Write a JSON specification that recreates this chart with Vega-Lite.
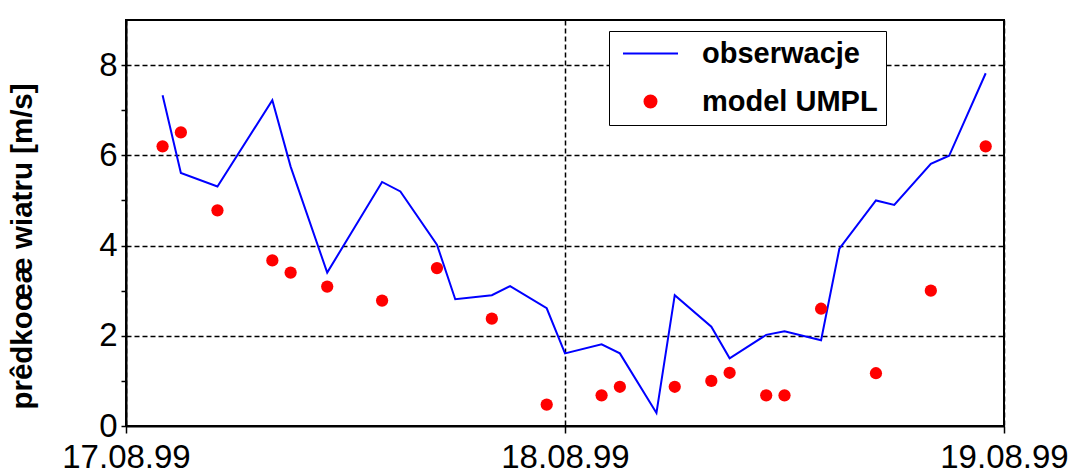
{
  "$schema": "https://vega.github.io/schema/vega-lite/v6.json",
  "width": 878,
  "height": 406,
  "autosize": {"type": "none"},
  "padding": {"left": 126, "top": 20, "right": 80, "bottom": 48},
  "background": "white",
  "config": {
    "font": "Liberation Sans",
    "view": {"stroke": "black", "strokeWidth": 2}
  },
  "data": {
    "values": [
      {"t": "1999-08-17T02:00", "v": 7.33, "s": "obserwacje"},
      {"t": "1999-08-17T03:00", "v": 5.61, "s": "obserwacje"},
      {"t": "1999-08-17T05:00", "v": 5.31, "s": "obserwacje"},
      {"t": "1999-08-17T08:00", "v": 7.22, "s": "obserwacje"},
      {"t": "1999-08-17T09:00", "v": 5.75, "s": "obserwacje"},
      {"t": "1999-08-17T11:00", "v": 3.4, "s": "obserwacje"},
      {"t": "1999-08-17T14:00", "v": 5.41, "s": "obserwacje"},
      {"t": "1999-08-17T15:00", "v": 5.2, "s": "obserwacje"},
      {"t": "1999-08-17T17:00", "v": 4.02, "s": "obserwacje"},
      {"t": "1999-08-17T18:00", "v": 2.81, "s": "obserwacje"},
      {"t": "1999-08-17T20:00", "v": 2.9, "s": "obserwacje"},
      {"t": "1999-08-17T21:00", "v": 3.1, "s": "obserwacje"},
      {"t": "1999-08-17T23:00", "v": 2.61, "s": "obserwacje"},
      {"t": "1999-08-18T00:00", "v": 1.61, "s": "obserwacje"},
      {"t": "1999-08-18T02:00", "v": 1.81, "s": "obserwacje"},
      {"t": "1999-08-18T03:00", "v": 1.61, "s": "obserwacje"},
      {"t": "1999-08-18T05:00", "v": 0.29, "s": "obserwacje"},
      {"t": "1999-08-18T06:00", "v": 2.9, "s": "obserwacje"},
      {"t": "1999-08-18T08:00", "v": 2.2, "s": "obserwacje"},
      {"t": "1999-08-18T09:00", "v": 1.5, "s": "obserwacje"},
      {"t": "1999-08-18T11:00", "v": 2.02, "s": "obserwacje"},
      {"t": "1999-08-18T12:00", "v": 2.1, "s": "obserwacje"},
      {"t": "1999-08-18T14:00", "v": 1.9, "s": "obserwacje"},
      {"t": "1999-08-18T15:00", "v": 3.93, "s": "obserwacje"},
      {"t": "1999-08-18T17:00", "v": 5.0, "s": "obserwacje"},
      {"t": "1999-08-18T18:00", "v": 4.9, "s": "obserwacje"},
      {"t": "1999-08-18T20:00", "v": 5.81, "s": "obserwacje"},
      {"t": "1999-08-18T21:00", "v": 5.99, "s": "obserwacje"},
      {"t": "1999-08-18T23:00", "v": 7.82, "s": "obserwacje"},
      {"t": "1999-08-17T02:00", "v": 6.2, "s": "model UMPL"},
      {"t": "1999-08-17T03:00", "v": 6.51, "s": "model UMPL"},
      {"t": "1999-08-17T05:00", "v": 4.78, "s": "model UMPL"},
      {"t": "1999-08-17T08:00", "v": 3.67, "s": "model UMPL"},
      {"t": "1999-08-17T09:00", "v": 3.4, "s": "model UMPL"},
      {"t": "1999-08-17T11:00", "v": 3.09, "s": "model UMPL"},
      {"t": "1999-08-17T14:00", "v": 2.78, "s": "model UMPL"},
      {"t": "1999-08-17T17:00", "v": 3.5, "s": "model UMPL"},
      {"t": "1999-08-17T20:00", "v": 2.38, "s": "model UMPL"},
      {"t": "1999-08-17T23:00", "v": 0.475, "s": "model UMPL"},
      {"t": "1999-08-18T02:00", "v": 0.68, "s": "model UMPL"},
      {"t": "1999-08-18T03:00", "v": 0.87, "s": "model UMPL"},
      {"t": "1999-08-18T06:00", "v": 0.87, "s": "model UMPL"},
      {"t": "1999-08-18T08:00", "v": 1.0, "s": "model UMPL"},
      {"t": "1999-08-18T09:00", "v": 1.18, "s": "model UMPL"},
      {"t": "1999-08-18T11:00", "v": 0.68, "s": "model UMPL"},
      {"t": "1999-08-18T12:00", "v": 0.68, "s": "model UMPL"},
      {"t": "1999-08-18T14:00", "v": 2.6, "s": "model UMPL"},
      {"t": "1999-08-18T17:00", "v": 1.17, "s": "model UMPL"},
      {"t": "1999-08-18T20:00", "v": 3.0, "s": "model UMPL"},
      {"t": "1999-08-18T23:00", "v": 6.2, "s": "model UMPL"}
    ]
  },
  "encoding": {
    "x": {
      "field": "t",
      "type": "temporal",
      "scale": {"domain": [{"year": 1999, "month": 8, "date": 17}, {"year": 1999, "month": 8, "date": 19}]},
      "axis": {
        "title": null,
        "values": [{"year": 1999, "month": 8, "date": 17}, {"year": 1999, "month": 8, "date": 18}, {"year": 1999, "month": 8, "date": 19}],
        "format": "%d.%m.%y",
        "labelFont": "Liberation Sans",
        "labelFontSize": 33,
        "labelColor": "black",
        "labelFlush": false,
        "labelOverlap": false,
        "labelBound": false,
        "labelPadding": 8,
        "tickSize": 7,
        "tickColor": "black",
        "tickWidth": 1.5,
        "domainColor": "black",
        "domainWidth": 2,
        "grid": true,
        "gridColor": "black",
        "gridDash": [5, 3],
        "gridWidth": 1.5
      }
    },
    "y": {
      "field": "v",
      "type": "quantitative",
      "scale": {"domain": [0, 9], "nice": false},
      "axis": {
        "title": "prêdkoœæ wiatru [m/s]",
        "titleFont": "Liberation Sans",
        "titleFontSize": 29.5,
        "titleFontWeight": "bold",
        "titleColor": "black",
        "titleX": -104,
        "titleY": 226,
        "titleAlign": "center",
        "titleBaseline": "middle",
        "titleAngle": -90,
        "values": [0, 1, 2, 3, 4, 5, 6, 7, 8],
        "labelExpr": "datum.value % 2 == 0 ? datum.label : ''",
        "labelFont": "Liberation Sans",
        "labelFontSize": 33,
        "labelColor": "black",
        "labelPadding": 4,
        "tickSize": 5,
        "tickColor": "black",
        "tickWidth": 1.5,
        "domainColor": "black",
        "domainWidth": 2,
        "grid": true,
        "gridColor": "black",
        "gridDash": [5, 3],
        "gridWidth": 1.5,
        "gridOpacity": {"condition": {"test": "datum.value % 2 == 0 && datum.value > 0", "value": 1}, "value": 0}
      }
    }
  },
  "layer": [
    {
      "transform": [{"filter": "datum.s == 'obserwacje'"}],
      "mark": {"type": "line", "strokeWidth": 2},
      "encoding": {
        "color": {
          "field": "s",
          "type": "nominal",
          "scale": {"domain": ["obserwacje", "model UMPL"], "range": ["#0000ff", "#ff0000"]},
          "legend": {
            "title": null,
            "orient": "none",
            "legendX": 483,
            "legendY": 11,
            "strokeColor": "black",
            "fillColor": "white",
            "padding": 8,
            "labelFont": "Liberation Sans",
            "labelFontSize": 29,
            "labelFontWeight": "bold",
            "labelColor": "black",
            "labelLimit": 400,
            "labelOffset": 37,
            "symbolOffset": 19,
            "rowPadding": 18,
            "symbolSize": 144,
            "encode": {
              "symbols": {
                "update": {
                  "shape": {"signal": "datum.value === 'obserwacje' ? 'stroke' : 'circle'"},
                  "size": {"signal": "datum.value === 'obserwacje' ? 3025 : 144"},
                  "stroke": {"signal": "datum.value === 'obserwacje' ? '#0000ff' : 'transparent'"},
                  "fill": {"signal": "datum.value === 'obserwacje' ? 'transparent' : '#ff0000'"},
                  "strokeWidth": {"value": 2},
                  "opacity": {"value": 1}
                }
              }
            }
          }
        }
      }
    },
    {
      "transform": [{"filter": "datum.s == 'model UMPL'"}],
      "mark": {"type": "point", "filled": true, "opacity": 1, "size": 150},
      "encoding": {
        "color": {
          "field": "s",
          "type": "nominal",
          "scale": {"domain": ["obserwacje", "model UMPL"], "range": ["#0000ff", "#ff0000"]}
        }
      }
    }
  ]
}
